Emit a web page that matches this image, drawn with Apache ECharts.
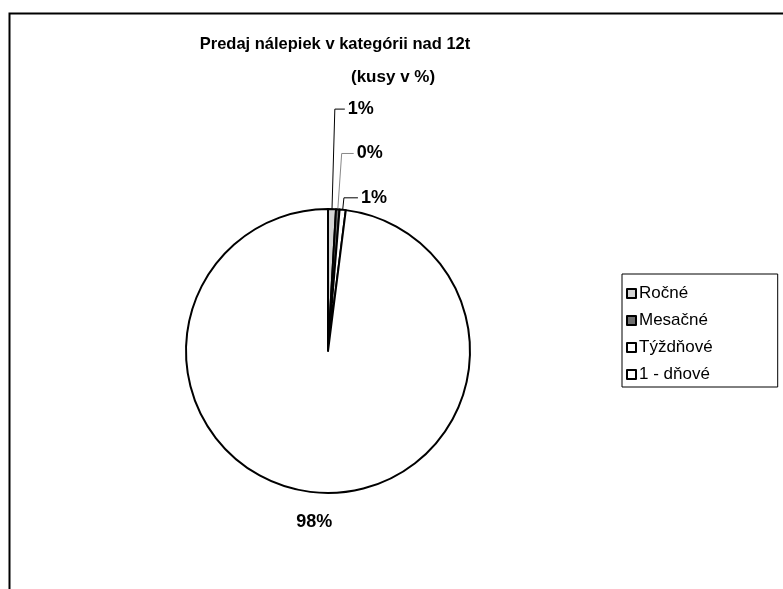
<!DOCTYPE html>
<html>
<head>
<meta charset="utf-8">
<title>Predaj nálepiek</title>
<style>
  html, body { margin: 0; padding: 0; background: #fff; }
  #main { width: 783px; height: 589px; }
</style>
</head>
<body>
<div id="main"></div>
<script src="https://cdn.jsdelivr.net/npm/echarts@6/dist/echarts.min.js"></script>
<script>
// data
var categories = ['Ročné', 'Mesačné', 'Týždňové', '1 - dňové'];
var shares = [0.9, 0.4, 0.7, 98.0];
var percentLabels = ['1%', '0%', '1%', '98%'];
var fills = ['#d4d4d4', '#6f6f6f', '#ffffff', '#ffffff'];
var lineLen = [100, 56, 12, 29];
var lineLen2 = [10, 12, 14, 0];
var lineColors = ['#000', '#888', '#000', '#000'];

var chart = echarts.init(document.getElementById('main'));

var pieData = categories.map(function (name, i) {
    return {
        name: name,
        value: shares[i],
        itemStyle: { color: fills[i] },
        label: { formatter: percentLabels[i] },
        labelLine: {
            show: i < 3, length: lineLen[i], length2: lineLen2[i],
            lineStyle: { color: lineColors[i] }
        }
    };
});

var option = {
    backgroundColor: '#fff',
    animation: false,
    textStyle: { fontFamily: 'Arial, "Liberation Sans", sans-serif' },
    title: [{
        text: 'Predaj nálepiek v kategórii nad 12t',
        left: 330, top: 31, textAlign: 'center',
        textStyle: { fontSize: 16.5, fontWeight: 'bold', color: '#000' }
    }, {
        text: '(kusy v %)',
        left: 346, top: 64,
        textStyle: { fontSize: 17, fontWeight: 'bold', color: '#000' }
    }],
    legend: {
        orient: 'vertical',
        left: 622, top: 274,
        data: categories,
        itemWidth: 9, itemHeight: 9,
        itemGap: 10,
        padding: [11, 65, 4, 4],
        borderColor: '#000', borderWidth: 1,
        icon: 'rect',
        textStyle: { fontSize: 17, color: '#000', padding: [0, 0, 0, -2] }
    },
    graphic: [{
        type: 'rect',
        shape: { x: 9.5, y: 13.5, width: 800, height: 600 },
        style: { fill: null, stroke: '#000', lineWidth: 2 },
        silent: true
    }],
    series: [{
        type: 'pie',
        center: [328, 351],
        radius: 142,
        startAngle: 90,
        clockwise: true,
        avoidLabelOverlap: false,
        label: {
            show: true,
            position: 'outside',
            fontSize: 18, fontWeight: 'bold', color: '#000',
            distanceToLabelLine: 3
        },
        labelLine: {
            smooth: false,
            lineStyle: { width: 1 }
        },
        labelLayout: function (p) {
            if (p.dataIndex === 3) {
                return { align: 'center' };
            }
        },
        itemStyle: { borderColor: '#000', borderWidth: 2 },
        emphasis: { disabled: true },
        data: pieData
    }]
};

chart.setOption(option);
</script>
</body>
</html>
